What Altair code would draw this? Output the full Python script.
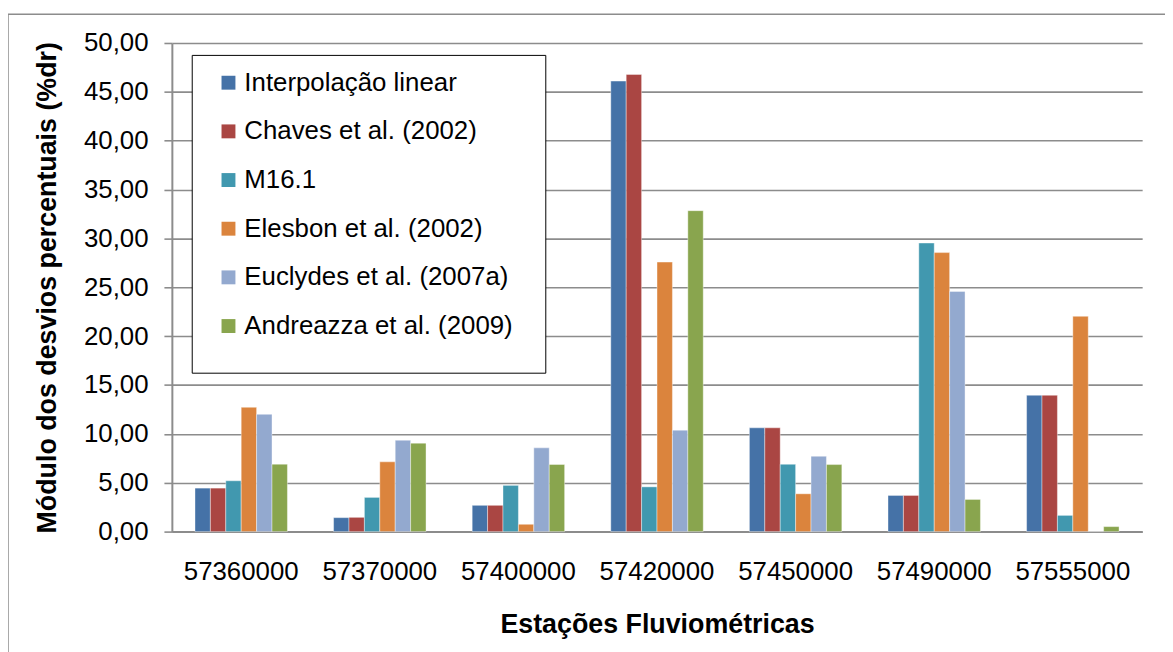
import altair as alt
import pandas as pd

stations = ["57360000", "57370000", "57400000", "57420000", "57450000", "57490000", "57555000"]
series = ["Interpolação linear", "Chaves et al. (2002)", "M16.1", "Elesbon et al. (2002)",
          "Euclydes et al. (2007a)", "Andreazza et al. (2009)"]
interpolacao = [4.45, 1.43, 2.69, 46.10, 10.62, 3.70, 13.95]
chaves = [4.45, 1.46, 2.69, 46.78, 10.62, 3.70, 13.95]
m161 = [5.20, 3.50, 4.73, 4.58, 6.89, 29.53, 1.66]
elesbon = [12.72, 7.14, 0.75, 27.58, 3.87, 28.55, 22.03]
euclydes = [12.00, 9.35, 8.57, 10.38, 7.71, 24.58, 0.00]
andreazza = [6.90, 9.05, 6.87, 32.84, 6.86, 3.29, 0.51]
colors = ["#4572A7", "#AA4643", "#4198AF", "#DB843D", "#93A9CF", "#89A54E"]
y_ticks = [0, 5, 10, 15, 20, 25, 30, 35, 40, 45, 50]

values = [interpolacao, chaves, m161, elesbon, euclydes, andreazza]
rows = []
for name, vals in zip(series, values):
    for st, v in zip(stations, vals):
        rows.append({"station": st, "series": name, "value": v})
df = pd.DataFrame(rows)

FONT = "Liberation Sans"
GRAY = "#8c8c8c"
SPACER = "_" * 39

frame = alt.Chart(pd.DataFrame({"a": [0]})).mark_rect(
    fillOpacity=0, stroke=GRAY, strokeWidth=1.5
).encode(x=alt.value(-165), x2=alt.value(1100), y=alt.value(-29), y2=alt.value(700))

bars = alt.Chart(df).mark_bar(stroke="white", strokeOpacity=0.5, strokeWidth=0.8).encode(
    x=alt.X("station:N", sort=stations,
            scale=alt.Scale(paddingInner=0.333, paddingOuter=0.1667),
            axis=alt.Axis(title="Estações Fluviométricas", labelAngle=0, ticks=False,
                          labelPadding=27, titlePadding=28)),
    xOffset=alt.XOffset("series:N", sort=series, scale=alt.Scale(paddingInner=0, paddingOuter=0)),
    y=alt.Y("value:Q", scale=alt.Scale(domain=[0, 50], nice=False),
            axis=alt.Axis(title="Módulo dos desvios percentuais (%dr)", values=y_ticks,
                          labelExpr="replace(format(datum.value, '.2f'), '.', ',')",
                          tickSize=8, labelPadding=16, titlePadding=22)),
    color=alt.Color("series:N", sort=series,
                    scale=alt.Scale(domain=series, range=colors),
                    legend=alt.Legend(title=SPACER, titleOrient="bottom", titleFontSize=15,
                                      titleFont=FONT, titleLimit=600, titleColor="rgba(0,0,0,0)",
                                      titlePadding=4, orient="none", legendX=20, legendY=12,
                                      symbolType="square", symbolSize=196,
                                      symbolStrokeWidth=0, symbolOffset=9,
                                      labelFontSize=26, labelFont=FONT, labelOffset=3,
                                      rowPadding=23, padding=15,
                                      strokeColor="black", fillColor="white",
                                      labelLimit=400)),
)

chart = alt.layer(frame, bars).properties(
    width=977, height=492,
    autosize=alt.AutoSizeParams(type="none"),
    padding={"left": 165, "top": 33, "right": 23, "bottom": 119},
).configure_view(stroke=None).configure_axis(
    labelFont=FONT, titleFont=FONT, labelFontSize=26, titleFontSize=27,
    labelColor="black", titleColor="black", titleFontWeight="bold",
    gridColor=GRAY, gridWidth=1.6, domainColor=GRAY, domainWidth=2,
    tickColor=GRAY, tickWidth=1.6,
).configure_axisX(grid=False)

chart.save("out.html", embed_options={"renderer": "svg", "actions": False})
